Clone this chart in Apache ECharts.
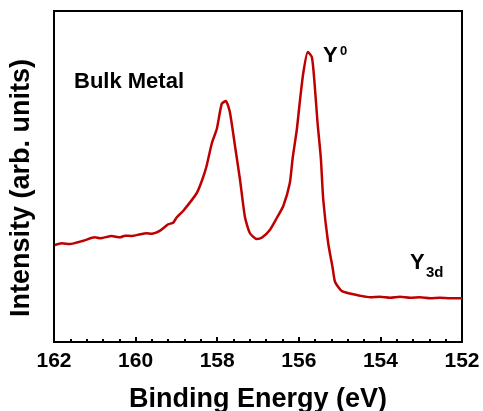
<!DOCTYPE html>
<html>
<head>
<meta charset="utf-8">
<script src="https://cdn.jsdelivr.net/npm/echarts@6/dist/echarts.min.js"></script>
<style>
html,body{margin:0;padding:0;background:#fff;}
#chart{width:483px;height:411px;}
</style>
</head>
<body>
<div id="chart"></div>
<script>
// Binding energy (eV)
var energy = [161.98,161.81,161.61,161.28,161.00,160.87,160.59,160.38,160.26,160.10,159.89,159.73,159.61,159.40,159.20,159.08,158.99,158.83,158.50,158.36,158.26,158.13,158.01,157.89,157.79,157.69,157.56,157.44,157.32,157.20,157.03,156.90,156.71,156.54,156.38,156.22,156.15,156.05,155.97,155.89,155.78,155.68,155.62,155.54,155.46,155.40,155.28,155.17,155.11,154.95,154.75,154.50,154.25,154.01,153.76,153.52,153.27,153.03,152.78,152.54,152.29,152.00];
// Intensity (arb. units)
var intensity = [97,98.7,98,101.3,104.7,103.7,106,104.7,106.3,106,107.7,108.7,108.3,111.3,117.7,119.3,124.7,131.3,149,163,176,199,213,238,241,230,195,162,125,109,103,104.5,112,124,136,159,184,212,242,269,290,285,262,219,184,142,99,74,60,51,48.5,46.3,44.7,45.3,44.3,45.3,44.3,44.7,43.7,44.3,43.7,43.7];
var xTickValues = [162,160,158,156,154,152];
var xTitle = 'Binding Energy (eV)';
var yTitle = 'Intensity (arb. units)';
var labelBulk = 'Bulk Metal';
var labelY0 = ['Y', '0'];
var labelY3d = ['Y', '3d'];

var pairs = energy.map(function (e, i) { return [e, intensity[i]]; });
var font = '"Liberation Sans", Arial, sans-serif';

var chart = echarts.init(document.getElementById('chart'), null, {renderer: 'canvas'});
chart.setOption({
  animation: false,
  backgroundColor: '#fff',
  grid: {left: 54, right: 21, top: 11, bottom: 69, show: true, borderColor: '#000', borderWidth: 2,
    containLabel: false, outerBoundsMode: 'none'},
  xAxis: {
    type: 'value',
    min: Math.min.apply(null, xTickValues),
    max: Math.max.apply(null, xTickValues),
    interval: 2,
    inverse: true,
    axisLine: {show: true, lineStyle: {color: '#000', width: 2}},
    axisTick: {show: true, inside: true, length: 5, lineStyle: {color: '#000', width: 2}},
    minorTick: {show: true, splitNumber: 5, length: 3, lineStyle: {color: '#000', width: 2}},
    splitLine: {show: false},
    axisLabel: {color: '#000', fontFamily: font, fontWeight: 'bold', fontSize: 21, margin: 9},
    name: xTitle,
    nameLocation: 'middle',
    nameGap: 44,
    nameTextStyle: {color: '#000', fontFamily: font, fontWeight: 'bold', fontSize: 27}
  },
  yAxis: {
    type: 'value',
    min: 0,
    max: 331,
    axisLine: {show: false},
    axisTick: {show: false},
    axisLabel: {show: false},
    splitLine: {show: false}
  },
  series: [{
    type: 'line',
    data: pairs,
    showSymbol: false,
    smooth: 0.2,
    lineStyle: {color: '#bf0000', width: 2.5},
    z: 1
  }],
  graphic: [
    {type: 'text', x: 22, y: 188, rotation: Math.PI / 2,
      style: {text: yTitle, fill: '#000', font: 'bold 27px ' + font, textAlign: 'center', textVerticalAlign: 'middle'}},
    {type: 'text', x: 74, y: 82,
      style: {text: labelBulk, fill: '#000', font: 'bold 22px ' + font, textAlign: 'left', textVerticalAlign: 'middle'}},
    {type: 'text', x: 323, y: 56,
      style: {text: labelY0[0], fill: '#000', font: 'bold 22px ' + font, textAlign: 'left', textVerticalAlign: 'middle'}},
    {type: 'text', x: 340, y: 51,
      style: {text: labelY0[1], fill: '#000', font: 'bold 13px ' + font, textAlign: 'left', textVerticalAlign: 'middle'}},
    {type: 'text', x: 410, y: 263,
      style: {text: labelY3d[0], fill: '#000', font: 'bold 22px ' + font, textAlign: 'left', textVerticalAlign: 'middle'}},
    {type: 'text', x: 426, y: 273,
      style: {text: labelY3d[1], fill: '#000', font: 'bold 15px ' + font, textAlign: 'left', textVerticalAlign: 'middle'}}
  ]
});
</script>
</body>
</html>
